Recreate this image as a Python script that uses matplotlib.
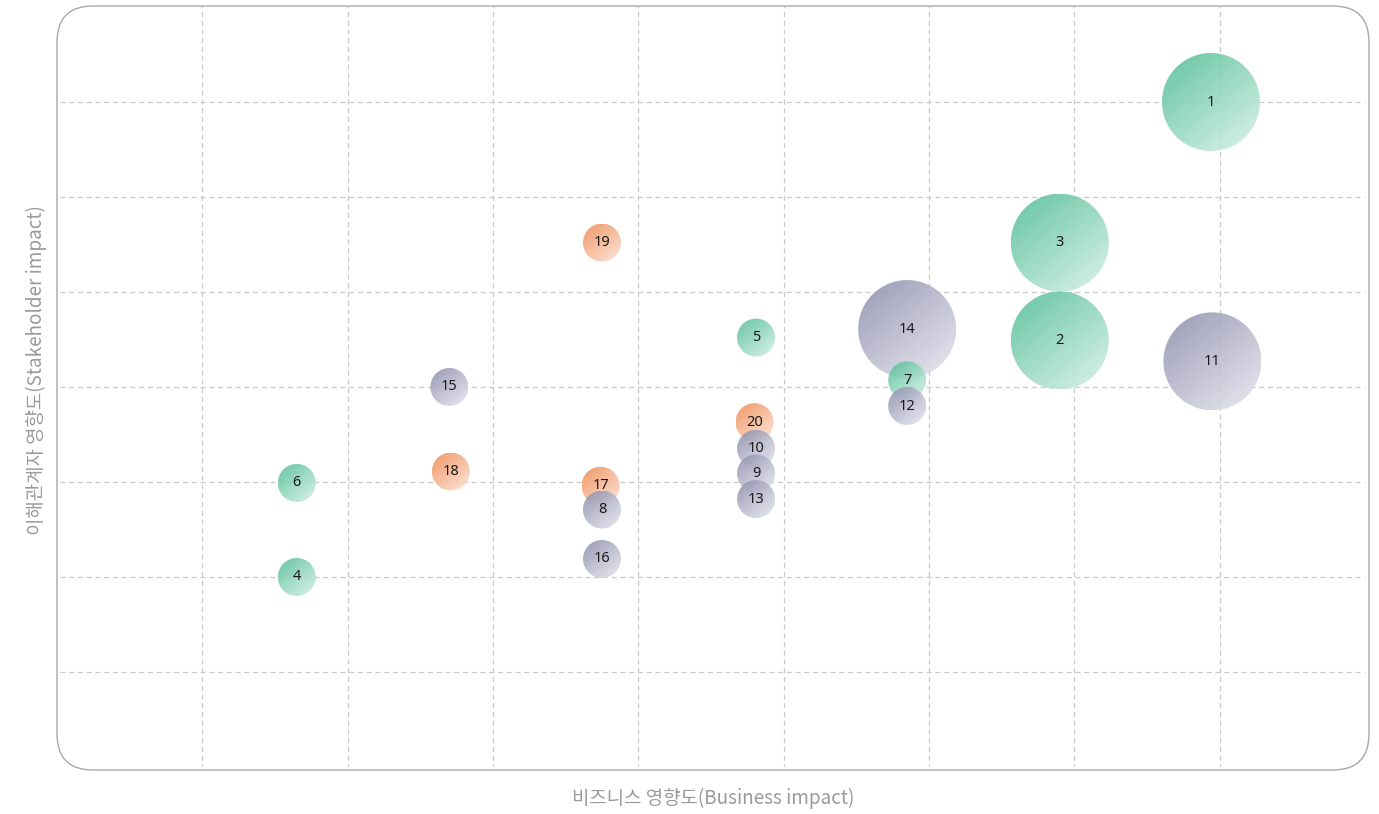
import numpy as np
import matplotlib
matplotlib.use("Agg")
import matplotlib.pyplot as plt
from matplotlib.patches import Ellipse, FancyBboxPatch

plt.rcParams['font.family'] = ['Noto Sans CJK KR', 'DejaVu Sans']

# bubble data
ids = [1, 2, 3, 4, 5, 6, 7, 8, 9, 10, 11, 12, 13, 14, 15, 16, 17, 18, 19, 20]
business = [7.94, 6.90, 6.90, 1.65, 4.81, 1.65, 5.85, 3.75, 4.81, 4.81,
            7.95, 5.85, 4.81, 5.85, 2.70, 3.75, 3.74, 2.71, 3.75, 4.80]
stakeholder = [7.00, 4.49, 5.52, 2.00, 4.52, 2.99, 4.07, 2.71, 3.09, 3.35,
               4.27, 3.80, 2.82, 4.61, 4.00, 2.19, 2.96, 3.11, 5.52, 3.63]
weight = [3, 3, 3, 1, 1, 1, 1, 1, 1, 1,
          3, 1, 1, 3, 1, 1, 1, 1, 1, 1]
group = ['env', 'env', 'env', 'env', 'env', 'env', 'env', 'soc', 'soc', 'soc',
         'soc', 'soc', 'soc', 'soc', 'soc', 'soc', 'gov', 'gov', 'gov', 'gov']

colors = {
    'env': ('#4fbc94', '#d8f2e7'),
    'soc': ('#8a8ba9', '#e8e8f1'),
    'gov': ('#ee8a52', '#fee4d6'),
}

W, H, DPI = 1379, 814, 100
# data area (pixels) and frame (pixels)
left, right, top, bottom = 57, 1365, 7, 767
fl, fr, ft, fb = 57, 1369, 6, 770
fig = plt.figure(figsize=(W / DPI, H / DPI), dpi=DPI)
ax = fig.add_axes([left / W, 1 - bottom / H, (right - left) / W, (bottom - top) / H])
xmax, ymax = 9, 8
ax.set_xlim(0, xmax)
ax.set_ylim(0, ymax)
for s in ax.spines.values():
    s.set_visible(False)
ax.set_xticks([])
ax.set_yticks([])
ax.patch.set_alpha(0)

# rounded frame
frame = FancyBboxPatch((fl / DPI, (H - fb) / DPI), (fr - fl) / DPI, (fb - ft) / DPI,
                       boxstyle="round,pad=0,rounding_size=0.36", transform=fig.dpi_scale_trans,
                       facecolor='white', edgecolor='#a8a8a8', linewidth=1.0, zorder=-1)
fig.patches.append(frame)

for gx in range(1, xmax):
    ax.axvline(gx, ymin=-2 / (bottom - top), ymax=1 + 1 / (bottom - top),
               color='#c9c9c9', linestyle=(0, (4, 3)), linewidth=0.9, zorder=1)
for gy in range(1, ymax):
    ax.axhline(gy, xmin=0.002, xmax=1 + 3 / (right - left),
               color='#c9c9c9', linestyle=(0, (4, 3)), linewidth=0.9, zorder=1)

px_x = (right - left) / xmax
px_y = (bottom - top) / ymax


def hex2rgb(h):
    return np.array(matplotlib.colors.to_rgb(h))


n = 64
u = np.linspace(0, 1, n)
uu, vv = np.meshgrid(u, u)
tt = np.clip((uu * 0.9 + vv * 1.1) / 2.0, 0, 1)

order = np.argsort(-np.array(stakeholder), kind='stable')
for k, i in enumerate(order):
    x, y = business[i], stakeholder[i]
    r = 19 if weight[i] == 1 else 49
    rx, ry = r / px_x, r / px_y
    c0, c1 = colors[group[i]]
    a, b = hex2rgb(c0), hex2rgb(c1)
    img = np.zeros((n, n, 4))
    img[..., :3] = a * (1 - tt[..., None]) + b * tt[..., None]
    img[..., 3] = 0.88
    z = 2 + k * 0.01
    im = ax.imshow(img, extent=[x - rx, x + rx, y - ry, y + ry], origin='upper',
                   aspect='auto', interpolation='bilinear', zorder=z)
    clip = Ellipse((x, y), 2 * rx, 2 * ry, transform=ax.transData, facecolor='none', edgecolor='none')
    ax.add_patch(clip)
    im.set_clip_path(clip)
    ax.text(x, y, str(ids[i]), ha='center', va='center', fontsize=10.5, color='#1a1a1a',
            family=['Noto Sans', 'DejaVu Sans'], zorder=z + 0.005)

ax.set_xlim(0, xmax)
ax.set_ylim(0, ymax)

fig.text((fl + fr) / 2 / W, 1 - 798 / H, '비즈니스 영향도(Business impact)', ha='center', va='center',
         fontsize=13.6, color='#9a9a9a')
fig.text(36 / W, 1 - 370 / H, '이해관계자 영향도(Stakeholder impact)', ha='center', va='center',
         rotation=90, fontsize=13.6, color='#9a9a9a')

fig.savefig('out.png', dpi=DPI)
